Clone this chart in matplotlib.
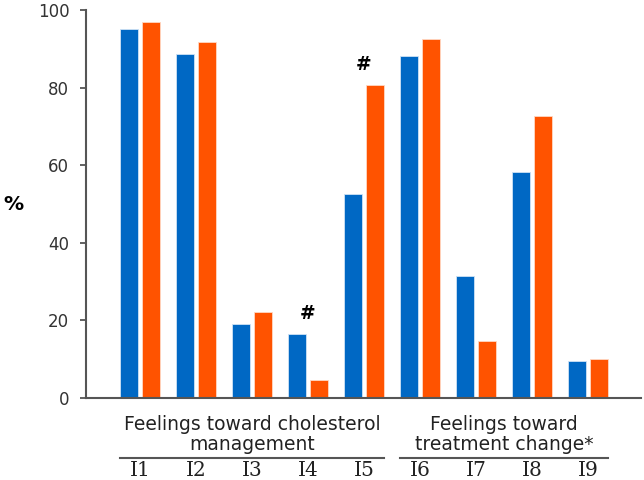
import numpy as np
import matplotlib
matplotlib.use("Agg")
import matplotlib.pyplot as plt

# values (percent)
items = ["I1", "I2", "I3", "I4", "I5", "I6", "I7", "I8", "I9"]
blue_vals = [95.0, 88.6, 19.1, 16.5, 52.6, 88.2, 31.4, 58.2, 9.6]
orange_vals = [96.9, 91.8, 22.2, 4.7, 80.7, 92.4, 14.6, 72.8, 10.1]
flagged = ["I4", "I5"]
groups = ["Feelings toward cholesterol\nmanagement", "Feelings toward\ntreatment change*"]
group_members = [["I1", "I2", "I3", "I4", "I5"], ["I6", "I7", "I8", "I9"]]
yticks = [0, 20, 40, 60, 80, 100]

blue = "#0068C4"
orange = "#FF5300"
grey = "#555555"

fig = plt.figure(figsize=(6.44, 4.8), dpi=100)
ax = fig.add_axes([86 / 644, 1 - 398 / 480, 555 / 644, 388 / 480])

x = np.arange(len(items))
w = 0.32
off = 0.2
ax.bar(x - off, blue_vals, w, color=blue, edgecolor="#cfe2f5", linewidth=0.6)
ax.bar(x + off, orange_vals, w, color=orange, edgecolor="#ffd9c4", linewidth=0.6)

ax.set_xlim(-0.964, 8.946)
ax.set_ylim(0, 100)
ax.set_yticks(yticks)
ax.set_xticks([])
ax.tick_params(axis="y", length=4, width=1.3, color=grey, pad=8,
               labelsize=12, labelcolor="#333333")
for s in ["top", "right"]:
    ax.spines[s].set_visible(False)
for s in ["left", "bottom"]:
    ax.spines[s].set_color(grey)
    ax.spines[s].set_linewidth(1.5)

# significance marks
for it in flagged:
    i = items.index(it)
    top = max(blue_vals[i], orange_vals[i])
    ax.annotate("#", (i, top), xytext=(0, 11), textcoords="offset points",
                ha="center", va="baseline", fontsize=13.5, fontweight="bold")

# item labels and group headings under the axis
tr = ax.get_xaxis_transform()
for i, it in enumerate(items):
    ax.text(i, -0.188, it, transform=tr, ha="center", va="center",
            fontsize=14.5, family="DejaVu Serif", color="#222222")
for g, members in zip(groups, group_members):
    idx = [items.index(m) for m in members]
    lo, hi = min(idx) - off - w / 2, max(idx) + off + w / 2
    ax.plot([lo, hi], [-0.154, -0.154], transform=tr, color=grey,
            lw=1.5, clip_on=False)
    ax.text((min(idx) + max(idx)) / 2, -0.094, g, transform=tr, ha="center",
            va="center", fontsize=13.5, color="#222222", linespacing=1.1)

ax.text(-0.1315, 0.5, "%", transform=ax.transAxes, ha="center", va="center",
        fontsize=14.5, fontweight="bold")

fig.savefig("out.png", dpi=100)
